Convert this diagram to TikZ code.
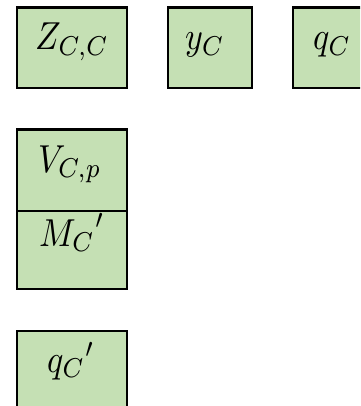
\documentclass[tikz,border=0pt]{standalone}
\definecolor{boxgreen}{HTML}{C5E0B4}
\tikzset{
  cell/.style={draw=black, fill=boxgreen, line width=2.5pt},
  lbl/.style={anchor=base west, inner sep=0pt}
}
\newcommand{\cellmath}[1]{\scalebox{3.4}[3.9]{$#1$}}
\begin{document}
\begin{tikzpicture}[x=1pt,y=-1pt]
\useasboundingbox (0,0) rectangle (360,406);
\clip (0,0) rectangle (360,406);
\draw[cell] (17,7.5) rectangle (127,88);
\draw[cell] (168,7.5) rectangle (252,88);
\draw[cell] (293,7.5) rectangle (366,88);
\draw[cell] (17,129.5) rectangle (127,211);
\draw[cell] (17,211) rectangle (127,289);
\draw[cell] (17,331) rectangle (127,412);
\node[lbl] (zcc) at (35,50) {\cellmath{Z_{C,C}}};
\node[lbl] (yc) at (185,50) {\cellmath{y_C}};
\node[lbl] (qc) at (313,50) {\cellmath{q_C}};
\node[lbl] (vcp) at (38,172) {\cellmath{V_{C,p}}};
\node[lbl] (mc) at (39,246) {\cellmath{{M_C}'}};
\node[lbl] (qcp) at (47,372) {\cellmath{{q_C}'}};
\end{tikzpicture}
\end{document}
